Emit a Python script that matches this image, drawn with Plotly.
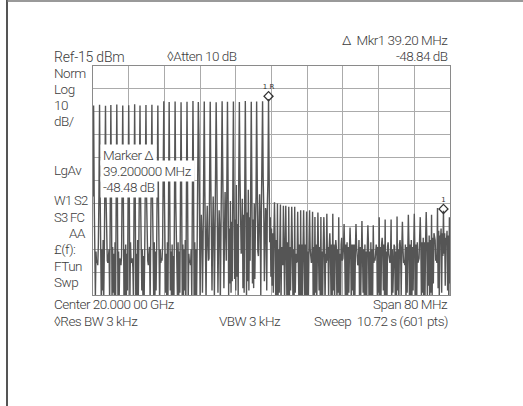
import plotly.graph_objects as go

# ---------------- instrument settings ----------------
center_mhz = 20000.0
span_mhz = 80.0
n_pts = 601
ref_dbm = -15.0
db_per_div = 10.0
marker_r_offset_mhz = -0.67          # reference marker position relative to centre
marker_delta_mhz = 39.2               # delta marker spacing
comb_spacing_mhz = 39.2 / 30          # comb line spacing

# peak level of each comb line (k = -30 .. 31), dBm
main_dbm = [
    -32.2, -31.9, -32.4, -32.0, -31.8, -32.3, -32.1, -31.7, -32.2, -32.0, -31.9, -32.3,
    -30.4, -30.7, -30.5, -30.8, -30.6, -30.3, -30.7, -30.5, -30.6, -30.8, -30.4, -30.6,
    -30.5, -30.7, -30.3, -30.6, -30.5, -30.4,
    -29.4,
    -74.5, -75.5, -76.0, -76.5, -78.7, -78.0, -78.0, -80.9, -80.9, -79.5, -79.5, -81.0,
    -84.0, -85.5, -84.0, -82.7, -84.5, -84.5, -81.0, -82.0, -82.0, -80.7, -83.0, -80.0,
    -79.5, -81.0, -78.8, -80.0, -77.0, -78.24, -81.0,
]
# shoulder samples right beside each comb line, dBm (None = noise only)
near_dbm = [
    -72, -71, -73, -72, -71.5, -72.5, -71, -72, -73, -71.5, -72, -72.5, -71, -72, -73,
    -72, -71, -68, -45, -70, -64, -56, -59, -65, -70, -62, -68, -68, -72, -63.5, -65,
] + [None] * 31
# spur half-way between comb lines, dBm (None = noise only)
side_dbm = [None] * 18 + [
    -80, -76, -72, -78, -70, -74, -67, -73, -69, -75, -71, -77,
    None,
    -75, -76, -76.5, -76.5, -78, -78.5, -78.7, -79, -81,
    -88, -91, -90, -92, -93, -91, -93, -92, -93, -90, -92, -93, -91, -93, -91, -92,
    -90, -93, -89, -91, -92, -91,
]
# noise floor of the 601-point sweep, dBm (values below -115 sit on the screen bottom)
floor_dbm = [
    -114, -95, -118, -94, -116, -96, -101, -100, -102, -93,
    -119, -97, -117, -92, -120, -95, -113, -91, -118, -96,
    -116, -94, -121, -93, -100, -101, -99, -95, -119, -90,
    -115, -96, -118, -94, -114, -97, -121, -92, -117, -95,
    -112, -93, -120, -96, -116, -99, -100, -102, -98, -94,
    -118, -91, -115, -95, -121, -93, -117, -97, -113, -94,
    -116, -96, -119, -92, -101, -100, -99, -103, -118, -95,
    -114, -94, -121, -97, -116, -91, -120, -95, -115, -96,
    -119, -93, -113, -95, -118, -98, -116, -94, -121, -92,
    -117, -97, -100, -102, -99, -94, -119, -96, -114, -93,
    -120, -95, -116, -92, -118, -96, -113, -94, -121, -97,
    -115, -93, -119, -95, -101, -99, -100, -93, -117, -96,
    -118, -94, -114, -97, -120, -92, -116, -95, -119, -91,
    -113, -96, -121, -93, -115, -98, -118, -94, -100, -101,
    -99, -95, -117, -92, -119, -96, -114, -94, -120, -97,
    -116, -93, -118, -95, -113, -91, -121, -96, -115, -94,
    -119, -97, -101, -100, -102, -95, -117, -93, -114, -96,
    -120, -92, -116, -95, -118, -94, -113, -97, -121, -93,
    -115, -91, -119, -89, -114, -93, -117, -90, -112, -92,
    -118, -88, -116, -92, -100, -99, -101, -89, -115, -91,
    -113, -90, -119, -87, -116, -92, -111, -89, -117, -88,
    -114, -91, -110, -86, -118, -90, -113, -88, -116, -87,
    -112, -89, -117, -85, -100, -98, -99, -88, -115, -86,
    -110, -85, -114, -83, -109, -87, -116, -84, -108, -82,
    -113, -86, -107, -84, -115, -81, -110, -85, -96, -97,
    -95, -83, -112, -80, -114, -84, -108, -82, -116, -79,
    -109, -85, -113, -81, -100, -83, -115, -78, -110, -82,
    -112, -80, -108, -84, -114, -79, -97, -96, -98, -81,
    -111, -83, -115, -78, -107, -82, -112, -77, -109, -80,
    -106, -79, -113, -76, -110, -60, -73, -92, -81, -107,
    -86, -111, -88, -114, -89, -95, -90, -115, -91, -118,
    -93, -117, -95, -114, -92, -96, -119, -94, -100, -102,
    -99, -95, -118, -93, -116, -97, -120, -92, -115, -96,
    -118, -94, -113, -96, -121, -93, -116, -95, -119, -93,
    -114, -97, -101, -100, -102, -94, -117, -93, -120, -96,
    -116, -93, -119, -95, -113, -97, -118, -93, -115, -94,
    -121, -96, -116, -93, -118, -95, -100, -101, -99, -94,
    -117, -94, -120, -97, -114, -93, -119, -95, -116, -96,
    -113, -94, -118, -94, -121, -96, -115, -93, -117, -95,
    -119, -97, -101, -99, -100, -94, -116, -94, -120, -96,
    -115, -93, -118, -95, -113, -93, -119, -96, -116, -94,
    -120, -95, -114, -94, -117, -97, -121, -93, -101, -100,
    -99, -94, -118, -96, -115, -93, -119, -95, -116, -94,
    -114, -96, -120, -94, -117, -93, -113, -97, -118, -93,
    -121, -95, -116, -94, -100, -102, -101, -96, -119, -94,
    -115, -93, -118, -97, -114, -95, -120, -93, -116, -96,
    -119, -94, -113, -93, -121, -96, -117, -94, -115, -95,
    -116, -97, -101, -99, -100, -93, -118, -95, -120, -94,
    -114, -96, -119, -94, -116, -93, -121, -95, -113, -93,
    -118, -94, -115, -96, -120, -94, -117, -97, -100, -101,
    -99, -93, -119, -95, -114, -93, -118, -94, -116, -96,
    -120, -94, -113, -95, -117, -93, -121, -96, -115, -94,
    -116, -95, -101, -100, -102, -94, -119, -94, -114, -96,
    -118, -93, -121, -93, -115, -95, -117, -94, -113, -94,
    -119, -96, -116, -93, -120, -92, -101, -100, -99, -93,
    -115, -94, -118, -92, -114, -95, -119, -92, -116, -91,
    -113, -90, -117, -92, -111, -89, -118, -91, -114, -90,
    -116, -90, -110, -88, -115, -91, -100, -99, -101, -89,
    -112, -87, -116, -89, -109, -86, -114, -88, -98, -96,
    -97, -88, -111, -90, -115, -87, -113, -89, -117, -91,
    -110,
]

# ---------------- build the sweep ----------------
start_mhz = center_mhz - span_mhz / 2
step_mhz = span_mhz / (n_pts - 1)
freq_mhz = [start_mhz + i * step_mhz for i in range(n_pts)]
trace_dbm = list(floor_dbm[:n_pts])


def put(i, v):
    if v is not None and 0 <= i < n_pts:
        trace_dbm[i] = max(trace_dbm[i], v)


comb_idx = []
for j, lvl in enumerate(main_dbm):
    f = center_mhz + marker_r_offset_mhz + (j - 30) * comb_spacing_mhz
    i = int(round((f - start_mhz) / step_mhz))
    comb_idx.append(i)
    put(i - 1, near_dbm[j])
    put(i + 1, near_dbm[j])
    put(i + 5, side_dbm[j])
for j, lvl in enumerate(main_dbm):
    i = comb_idx[j]
    if 0 <= i < n_pts:
        trace_dbm[i] = lvl

iR = comb_idx[30]
i1 = comb_idx[60]

bottom_dbm = ref_dbm - 10 * db_per_div

fig = go.Figure()
fig.add_trace(go.Scatter(
    x=freq_mhz, y=trace_dbm, mode="lines",
    line=dict(color="#555555", width=1.4), hoverinfo="skip",
))
fig.add_trace(go.Scatter(
    x=[freq_mhz[iR], freq_mhz[i1]], y=[trace_dbm[iR] + 1.2, trace_dbm[i1] + 0.8],
    mode="markers+text", text=["1 R", "1"], textposition="top center",
    textfont=dict(size=7, color="#333333", family="DejaVu Sans"),
    marker=dict(symbol="diamond-open", size=7, color="#333333", line=dict(width=1.2)),
    hoverinfo="skip",
))

# ---------------- layout ----------------
W, H = 523, 406
L, R, T, B = 93, 450, 66, 295


def px(x):
    return (x - L) / (R - L)


def py(y):
    return (B - y) / (B - T)


FONT = "Roboto, Liberation Sans, sans-serif"
TXT = "#3c3c3c"
ann = []


def label(text, x, y, anchor="left", bg=None, size=13.5, ls=-0.5):
    d = dict(text='<span style="letter-spacing:%spx">%s</span>' % (ls, text),
             x=px(x), y=py(y), xref="paper", yref="paper",
             xanchor=anchor, yanchor="middle", showarrow=False,
             font=dict(family=FONT, size=size, color=TXT, weight=300))
    if bg:
        d.update(bgcolor=bg, borderpad=2)
    ann.append(d)


NB = "\u00a0"
label("Δ" + NB + NB + "Mkr1 39.20 MHz", 450, 40, "right")
label("-48.84 dB", 450, 56, "right")
label("Ref-15 dBm", 52, 57, size=14, ls=-0.2)
label("◊Atten 10 dB", 165, 56)
label("Norm", 52, 72.5)
label("Log", 52, 89)
label("10", 52, 105)
label("dB/", 52, 120.5)
label("LgAv", 52, 170)
label("W1 S2", 52, 200.5, size=13, ls=-0.7)
label("S3 FC", 52, 217, size=13, ls=-0.7)
label("AA", 88, 233, "right")
label("£(f):", 52, 249)
label("FTun", 52, 265.5)
label("Swp", 52, 282)
label("Center 20.000 00 GHz", 52, 304)
label("Span 80 MHz", 450, 304, "right")
label("◊Res BW 3 kHz", 52, 321)
label("VBW 3 kHz", 250, 321, "center")
label("Sweep" + NB + NB + "10.72 s (601 pts)", 450, 321, "right")
label("Marker Δ", 100, 155, bg="white")
label("39.200000 MHz", 100, 171, bg="white")
label("-48.48 dB", 100, 187, bg="white")

shapes = [
    dict(type="line", xref="paper", yref="paper", x0=px(7), x1=px(7), y0=py(0), y1=py(H),
         line=dict(color="#555555", width=2)),
    dict(type="line", xref="paper", yref="paper", x0=px(7), x1=px(W), y0=py(1), y1=py(1),
         line=dict(color="#777777", width=1.5)),
]

fig.update_layout(
    width=W, height=H, autosize=False,
    margin=dict(l=L, r=W - R, t=T, b=H - B, pad=0),
    paper_bgcolor="white", plot_bgcolor="white",
    showlegend=False, annotations=ann, shapes=shapes,
    xaxis=dict(range=[start_mhz, start_mhz + span_mhz], tick0=start_mhz, dtick=span_mhz / 10,
               showgrid=True, gridcolor="#ababab", gridwidth=1, zeroline=False,
               showticklabels=False, ticks="", showline=True, mirror=True,
               linecolor="#8a8a8a", linewidth=1, layer="above traces", fixedrange=True),
    yaxis=dict(range=[bottom_dbm, ref_dbm], tick0=bottom_dbm, dtick=db_per_div,
               showgrid=True, gridcolor="#ababab", gridwidth=1, zeroline=False,
               showticklabels=False, ticks="", showline=True, mirror=True,
               linecolor="#8a8a8a", linewidth=1, layer="above traces", fixedrange=True),
)

fig.write_html("out.html", config={"displayModeBar": False},
               post_script="document.body.style.margin='0px';")
